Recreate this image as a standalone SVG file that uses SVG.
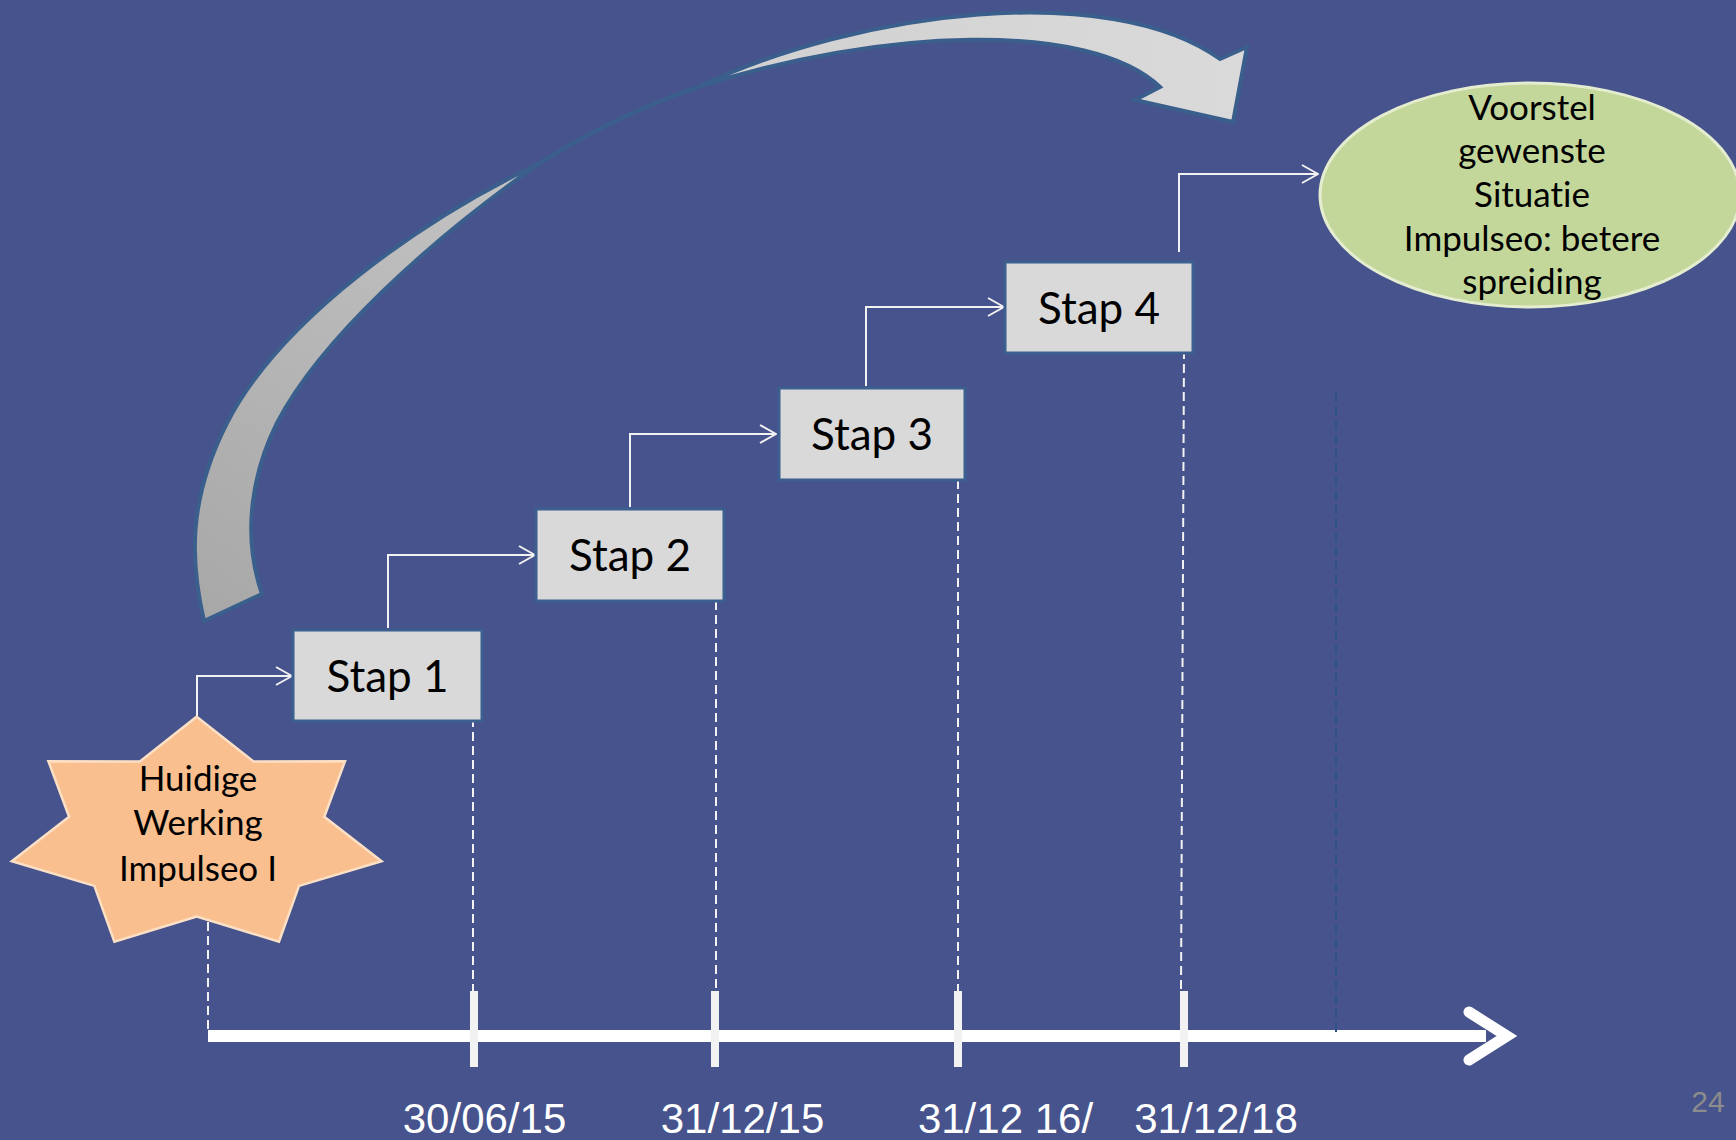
<svg xmlns="http://www.w3.org/2000/svg" width="1736" height="1140" viewBox="0 0 1736 1140">
<defs>
<style>
.bg{fill:#46538C}
.box{fill:#D9D9D9;stroke:#3B5F8E;stroke-width:3}
.lbl{font-family:Lato,"Open Sans","Noto Sans",sans-serif;fill:#000;text-anchor:middle;font-variant-ligatures:none;font-feature-settings:"liga" 0,"clig" 0}
.stap{font-size:44px}
.small{font-size:35px}
.conn{fill:none;stroke:#F2F2F2;stroke-width:2;marker-end:url(#open)}
.dash{fill:none;stroke:#F2F2F2;stroke-width:2;stroke-dasharray:9 5}
.dashdark{fill:none;stroke:#2D5388;stroke-width:2;stroke-dasharray:9 5}
.tick{fill:#F2F2F2}
.date{font-family:"Liberation Sans",Arial,sans-serif;font-size:42px;fill:#FFFFFF;text-anchor:middle}
.arrowstroke{stroke:#3B5F8C;stroke-width:4;stroke-linejoin:miter}
</style>
<marker id="open" markerUnits="userSpaceOnUse" viewBox="0 0 18 20" markerWidth="18" markerHeight="20" refX="17" refY="10" orient="auto">
<path d="M1,1 L17,10 L1,19" fill="none" stroke="#F2F2F2" stroke-width="2"/>
</marker>
<linearGradient id="lowGrad" gradientUnits="userSpaceOnUse" x1="220" y1="621" x2="540" y2="163">
<stop offset="0" stop-color="#A8A8A8"/>
<stop offset="1" stop-color="#C4C4C4"/>
</linearGradient>
<linearGradient id="upGrad" gradientUnits="userSpaceOnUse" x1="698" y1="87" x2="1247" y2="60">
<stop offset="0" stop-color="#D0D0D0"/>
<stop offset="1" stop-color="#DADADA"/>
</linearGradient>
</defs>
<rect class="bg" x="0" y="0" width="1736" height="1140"/>

<g id="curved-arrow">
<path class="arrowstroke" fill="url(#lowGrad)" d="M204,621 C190,560 188,500 227,423 C280,320 420,220 540,163 C430,240 320,340 277,423 C255,467 240,530 262,594 Z"/>
<path class="arrowstroke" fill="none" d="M540,163 Q610,118 698,87"/>
<path class="arrowstroke" fill="url(#upGrad)" d="M698,87 C860,10 1110,-20 1220,59 L1247,47 L1233,122 L1135,100 L1160,87 C1090,20 880,28 698,87 Z"/>
</g>

<g id="timeline">
<rect x="208" y="1030" width="1278" height="12" fill="#FFFFFF"/>
<polyline points="1469,1012 1507,1036 1469,1060" fill="none" stroke="#FFFFFF" stroke-width="11" stroke-linecap="round" stroke-linejoin="miter"/>
<rect class="tick" x="470" y="991" width="8" height="76"/>
<rect class="tick" x="711" y="991" width="8" height="76"/>
<rect class="tick" x="954" y="991" width="8" height="76"/>
<rect class="tick" x="1180" y="991" width="8" height="76"/>
</g>

<g id="connectors">
<path class="conn" d="M197,717 V676 H292"/>
<path class="conn" d="M388,628 V555 H535"/>
<path class="conn" d="M630,507 V434 H776"/>
<path class="conn" d="M866,386 V307 H1004"/>
<path class="conn" d="M1179,252 V174 H1318"/>
<path class="dash" d="M208,908 V1030"/>
<path class="dash" d="M473,718 V991"/>
<path class="dash" d="M716,601 V991"/>
<path class="dash" d="M958,480 V991"/>
<path class="dash" d="M1184,350 L1181,991"/>
<path class="dashdark" d="M1336,393 V1036"/>
</g>

<g id="star">
<polygon points="196.7,716.7 253.5,761.5 345,761.2 324.3,816.8 381.6,861.3 299,885.9 279,941.6 196.7,916.6 114.4,941.6 94.4,885.9 11.8,861.3 69.1,816.8 48.4,761.2 139.9,761.5" fill="#F9BF8F" stroke="#FCE0C6" stroke-width="2.5" stroke-linejoin="miter"/>
<text class="lbl small" x="198" y="791">Huidige</text>
<text class="lbl small" x="198" y="835">Werking</text>
<text class="lbl small" x="198" y="881">Impulseo I</text>
</g>

<g id="stap1">
<rect class="box" x="293" y="630" width="189" height="91"/>
<text class="lbl stap" x="387.5" y="692">Stap 1</text>
</g>
<g id="stap2">
<rect class="box" x="536" y="509" width="188" height="92"/>
<text class="lbl stap" x="630" y="571">Stap 2</text>
</g>
<g id="stap3">
<rect class="box" x="779" y="388" width="186" height="92"/>
<text class="lbl stap" x="872" y="450">Stap 3</text>
</g>
<g id="stap4">
<rect class="box" x="1005" y="262" width="188" height="91"/>
<text class="lbl stap" x="1099" y="324">Stap 4</text>
</g>

<g id="goal">
<ellipse cx="1530" cy="195" rx="210" ry="112" fill="#C4D79B" stroke="#E4EDCF" stroke-width="3"/>
<text class="lbl small" x="1532" y="120">Voorstel</text>
<text class="lbl small" x="1532" y="163">gewenste</text>
<text class="lbl small" x="1532" y="207">Situatie</text>
<text class="lbl small" x="1532" y="251">Impulseo: betere</text>
<text class="lbl small" x="1532" y="294">spreiding</text>
</g>

<g id="dates">
<text class="date" x="484.5" y="1133">30/06/15</text>
<text class="date" x="742.5" y="1133">31/12/15</text>
<text class="date" x="1005.5" y="1133">31/12 16/</text>
<text class="date" x="1216" y="1133">31/12/18</text>
<text x="1708" y="1112" font-family="'Liberation Sans',Arial,sans-serif" font-size="30" fill="#8C8C8C" text-anchor="middle">24</text>
</g>
</svg>
